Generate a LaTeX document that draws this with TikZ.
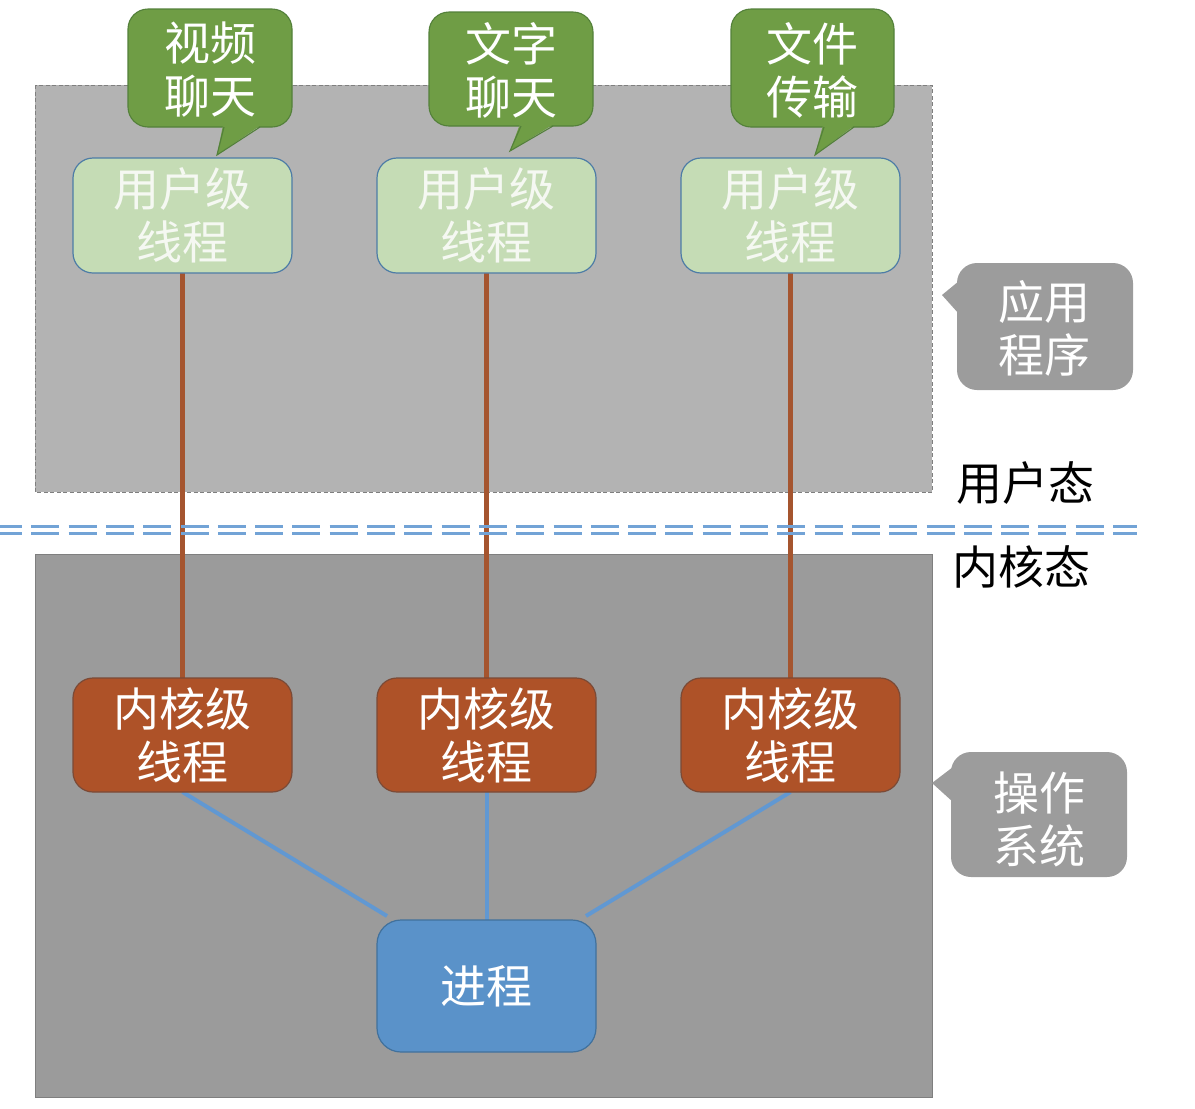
\documentclass[tikz,border=0pt]{standalone}
\usepackage{fontspec}
\setmainfont{Noto Sans CJK SC}
\definecolor{upfill}{HTML}{B3B3B3}
\definecolor{lowfill}{HTML}{9B9B9B}
\definecolor{regionborder}{HTML}{7F7F7F}
\definecolor{bubgreen}{HTML}{6F9D45}
\definecolor{bubgreenborder}{HTML}{53803A}
\definecolor{ufill}{HTML}{C5DCB5}
\definecolor{uborder}{HTML}{4D7CA6}
\definecolor{kfill}{HTML}{AE5228}
\definecolor{kborder}{HTML}{7B4A36}
\definecolor{pfill}{HTML}{5A92C9}
\definecolor{pborder}{HTML}{41719C}
\definecolor{brownline}{HTML}{A5552F}
\definecolor{blueline}{HTML}{6198D2}
\definecolor{sepblue}{HTML}{72A3D6}
\definecolor{bubgray}{HTML}{9C9C9C}
\definecolor{utext}{HTML}{F5F8F2}
\pgfdeclarelayer{bgzero}
\pgfdeclarelayer{bgone}
\pgfsetlayers{bgzero,bgone,main}
\begin{document}
\begin{tikzpicture}[x=1pt,y=-1pt,
  every node/.style={inner sep=0pt,outer sep=0pt},
  bigtxt/.style={font=\fontsize{46}{53}\selectfont,align=center},
  ubox/.style={bigtxt,draw=uborder,line width=1.2pt,fill=ufill,rounded corners=20pt,
    minimum width=219pt,minimum height=115pt,text=utext},
  kbox/.style={bigtxt,draw=kborder,line width=1.2pt,fill=kfill,rounded corners=20pt,
    minimum width=219pt,minimum height=114pt,text=white},
  pbox/.style={bigtxt,draw=pborder,line width=1.2pt,fill=pfill,rounded corners=24pt,
    minimum width=219pt,minimum height=132pt,text=white},
  gbub/.style={fill=bubgreen,draw=bubgreenborder,line width=1.1pt,rounded corners=20pt},
  gtail/.style={fill=bubgreen},
  gtailedge/.style={draw=bubgreenborder,line width=1.1pt},
  graybub/.style={fill=bubgray,rounded corners=20pt},
  bubtxt/.style={bigtxt,text=white},
  statetxt/.style={bigtxt,text=black},
  brownconn/.style={draw=brownline,line width=4.5pt},
  blueconn/.style={draw=blueline,line width=4pt},
  sepline/.style={draw=sepblue,line width=2.6pt,dash pattern=on 28pt off 9.3pt,dash phase=6pt}
]
\useasboundingbox (0,0) rectangle (1195,1109);

% regions
\begin{pgfonlayer}{bgzero}
\fill[upfill] (35,85) rectangle (932,492);
\draw[regionborder,line width=0.8pt,dash pattern=on 4pt off 2.5pt] (35,85) rectangle (932,492);
\fill[lowfill] (35,554) rectangle (932,1097);
\draw[regionborder,line width=0.8pt] (35,554) rectangle (932,1097);
\end{pgfonlayer}

% separator
\coordinate (sepL1) at (0,526.5);
\coordinate (sepR1) at (1137,526.5);
\coordinate (sepL2) at (0,533.5);
\coordinate (sepR2) at (1137,533.5);
\draw[sepline] (sepL1) -- (sepR1);
\draw[sepline] (sepL2) -- (sepR2);

% user-level threads
\node[ubox] (u1) at (182.5,215.5) {用户级\\线程};
\node[ubox] (u2) at (486.5,215.5) {用户级\\线程};
\node[ubox] (u3) at (790.5,215.5) {用户级\\线程};

% kernel-level threads
\node[kbox] (k1) at (182.5,735) {内核级\\线程};
\node[kbox] (k2) at (486.5,735) {内核级\\线程};
\node[kbox] (k3) at (790.5,735) {内核级\\线程};

% process
\node[pbox] (p) at (486.5,986) {进程};

% connectors
\begin{pgfonlayer}{bgone}
\draw[brownconn] (u1.south) -- (k1.north);
\draw[brownconn] (u2.south) -- (k2.north);
\draw[brownconn] (u3.south) -- (k3.north);
\draw[blueconn] (k1.south) -- ([xshift=10pt,yshift=4pt]p.north west);
\draw[blueconn] (k2.south) -- (p.north);
\draw[blueconn] (k3.south) -- ([xshift=-10pt,yshift=4pt]p.north east);
\end{pgfonlayer}

% green callouts
\draw[gbub] (128,9) rectangle (292,127);
\fill[gtail] (223,125) -- (217,155) -- (261,125) -- cycle;
\draw[gtailedge] (224,127) -- (217,155) -- (260,127);
\node[bubtxt] (c1) at (210,70) {视频\\聊天};

\draw[gbub] (429,12) rectangle (593,126);
\fill[gtail] (520,124) -- (510,151) -- (554,124) -- cycle;
\draw[gtailedge] (521,126) -- (510,151) -- (553,126);
\node[bubtxt] (c2) at (511,70) {文字\\聊天};

\draw[gbub] (731,9) rectangle (894,127);
\fill[gtail] (823,125) -- (815,155) -- (855,125) -- cycle;
\draw[gtailedge] (824,127) -- (815,155) -- (854,127);
\node[bubtxt] (c3) at (812,70) {文件\\传输};

% gray callouts
\fill[graybub] (957,263) rectangle (1133,390);
\fill[bubgray] (959,281) -- (942,295) -- (959,314) -- cycle;
\node[bubtxt] (app) at (1044,328) {应用\\程序};

\fill[graybub] (951,752) rectangle (1127,877);
\fill[bubgray] (953,767) -- (932,783) -- (953,802) -- cycle;
\node[bubtxt] (os) at (1039,819) {操作\\系统};

% state labels
\node[statetxt] (ustate) at (1025,483) {用户态};
\node[statetxt] (kstate) at (1021,567) {内核态};
\end{tikzpicture}
\end{document}
